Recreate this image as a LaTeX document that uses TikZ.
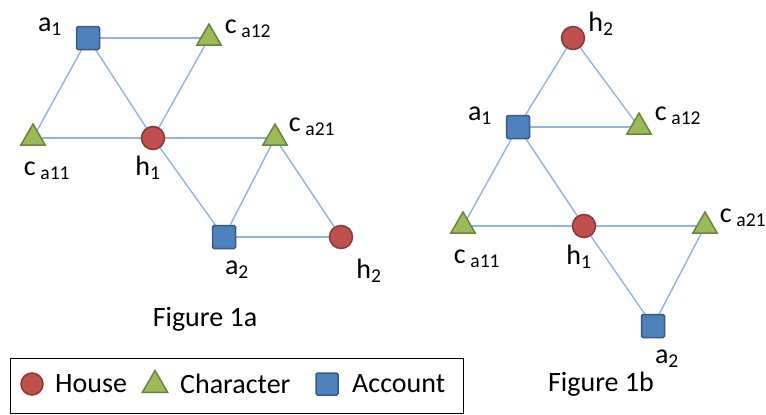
\documentclass[tikz,border=0pt]{standalone}
\usepackage{fontspec}
\setmainfont{Carlito}
\usetikzlibrary{shapes.geometric,backgrounds}

\definecolor{houseRed}{HTML}{C0504D}
\definecolor{charGreen}{HTML}{9BBB59}
\definecolor{accBlue}{HTML}{4F81BD}
\definecolor{edgeBlue}{HTML}{8EB4E3}

\begin{document}
\begin{tikzpicture}[x=1pt, y=-1pt,
    font=\fontsize{28}{31}\selectfont,
    house/.style={circle, draw=houseRed!70!black, fill=houseRed, line width=1.5pt, minimum size=23pt, inner sep=0pt},
    character/.style={regular polygon, regular polygon sides=3, draw=charGreen!70!black, fill=charGreen, line width=1.5pt, minimum size=28pt, inner sep=0pt},
    account/.style={rectangle, rounded corners=1.5pt, draw=accBlue!70!black, fill=accBlue, line width=1.5pt, minimum size=23pt, inner sep=0pt},
    edge/.style={edgeBlue, line width=1.4pt},
    lbl/.style={inner sep=0pt}]
    \useasboundingbox (0,0) rectangle (766,415);

    % Figure 1a
    \node[account]   (la1)   at (88,38)   {};
    \node[character] (lca12) at (209,38)  {};
    \node[character] (lca11) at (33,138)  {};
    \node[house]     (lh1)   at (153,138) {};
    \node[character] (lca21) at (275,138) {};
    \node[account]   (la2)   at (224,237) {};
    \node[house]     (lh2)   at (341,237) {};

    \node[lbl] (la1t)   at (50,27)   {a\textsubscript{1}};
    \node[lbl] (lca12t) at (248,29)  {c\,\textsubscript{a12}};
    \node[lbl] (lca11t) at (47,171)  {c\,\textsubscript{a11}};
    \node[lbl] (lh1t)   at (148,168) {h\textsubscript{1}};
    \node[lbl] (lca21t) at (312,127) {c\,\textsubscript{a21}};
    \node[lbl] (la2t)   at (237,270) {a\textsubscript{2}};
    \node[lbl] (lh2t)   at (369,271) {h\textsubscript{2}};
    \node[lbl] (capa)   at (205,319) {Figure 1a};

    % Figure 1b
    \node[house]     (rh2)   at (573,38)  {};
    \node[account]   (ra1)   at (518,127) {};
    \node[character] (rca12) at (639,127) {};
    \node[character] (rca11) at (463,226) {};
    \node[house]     (rh1)   at (584,226) {};
    \node[character] (rca21) at (705,226) {};
    \node[account]   (ra2)   at (653,326) {};

    \node[lbl] (rh2t)   at (601,24)  {h\textsubscript{2}};
    \node[lbl] (ra1t)   at (480,116) {a\textsubscript{1}};
    \node[lbl] (rca12t) at (678,116) {c\,\textsubscript{a12}};
    \node[lbl] (rca11t) at (477,259) {c\,\textsubscript{a11}};
    \node[lbl] (rh1t)   at (579,257) {h\textsubscript{1}};
    \node[lbl] (rca21t) at (743,218) {c\,\textsubscript{a21}};
    \node[lbl] (ra2t)   at (667,359) {a\textsubscript{2}};
    \node[lbl] (capb)   at (601,384) {Figure 1b};

    % legend
    \node[draw, line width=0.8pt, minimum width=453pt, minimum height=55pt, inner sep=0pt] (legend) at (236.5,385.5) {};
    \node[house, minimum size=22pt]     (keyh) at (32,384)  {};
    \node[character, minimum size=29pt] (keyc) at (155,385) {};
    \node[account, minimum size=22pt]   (keya) at (327,384) {};
    \node[lbl, anchor=west] (keyht) at (55,384)  {House};
    \node[lbl, anchor=west] (keyct) at (180,384) {Character};
    \node[lbl, anchor=west] (keyat) at (352,384) {Account};

    \begin{pgfonlayer}{background}
        \foreach \a/\b in {la1/lca12, la1/lca11, la1/lh1, lca12/lh1, lca11/lh1, lh1/lca21,
                           lh1/la2, lca21/la2, lca21/lh2, la2/lh2,
                           rh2/ra1, rh2/rca12, ra1/rca12, ra1/rca11, ra1/rh1, rca11/rh1,
                           rh1/rca21, rh1/ra2, rca21/ra2}
            \draw[edge] (\a.center) -- (\b.center);
    \end{pgfonlayer}
\end{tikzpicture}
\end{document}
